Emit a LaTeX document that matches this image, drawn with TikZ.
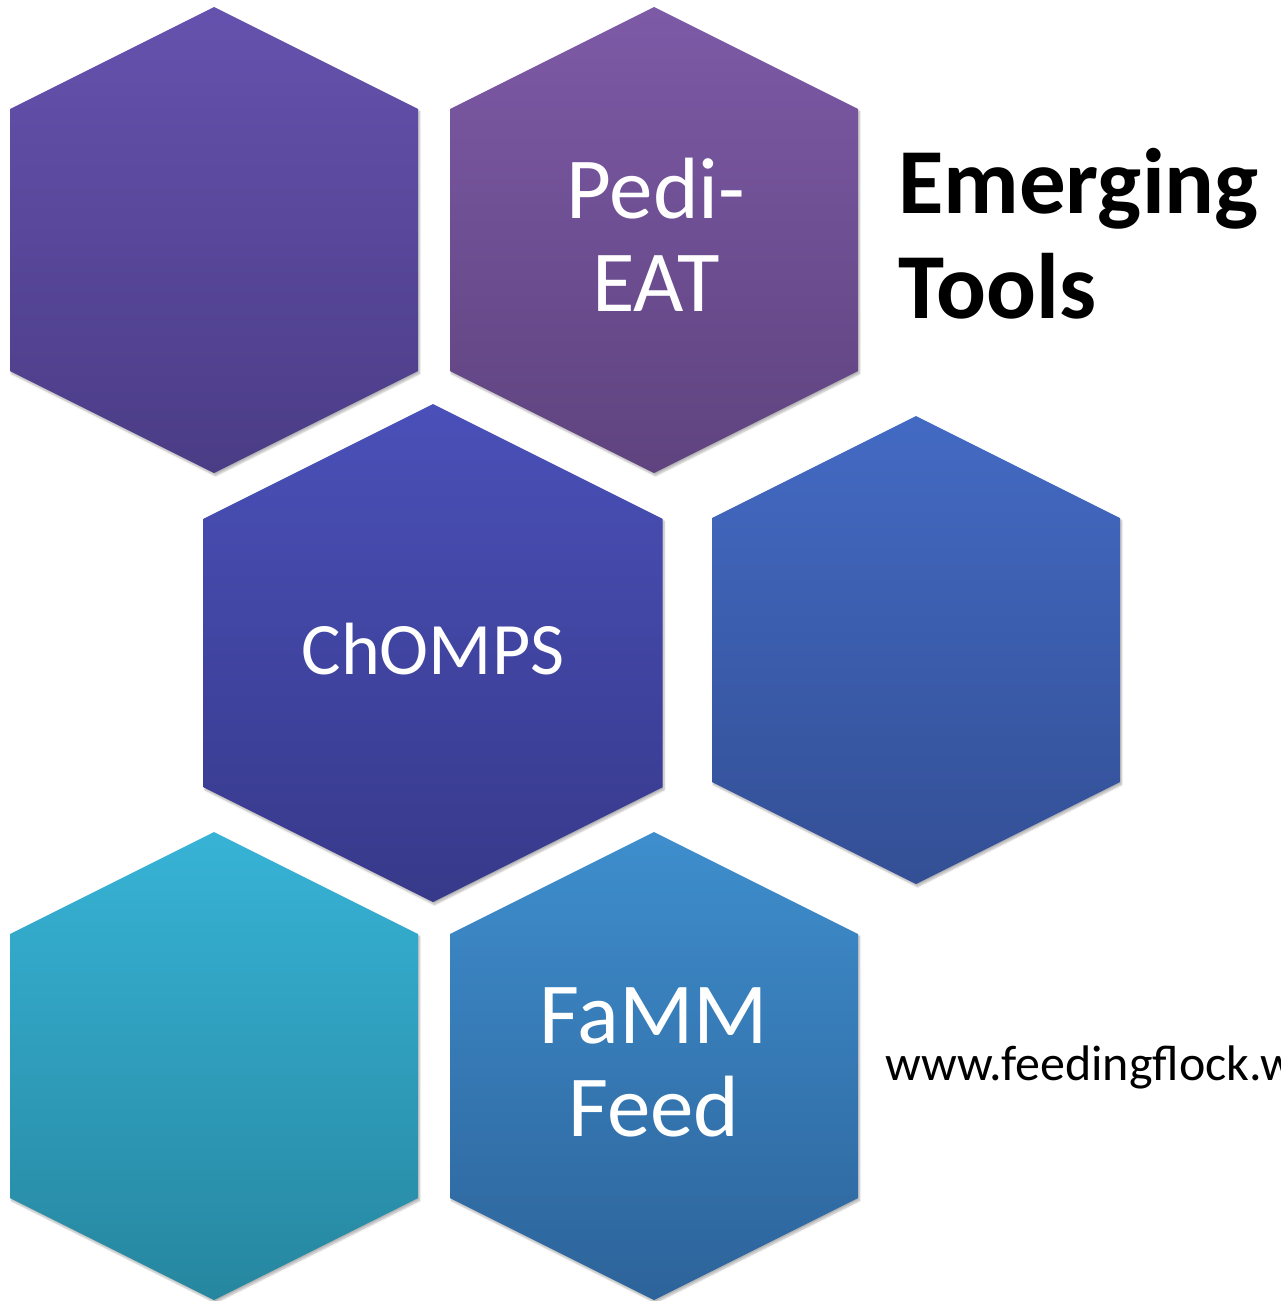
\documentclass[tikz,border=0pt]{standalone}
\usepackage{fontspec}
\setmainfont{Carlito}
\usetikzlibrary{shadows.blur}

% fill colours of the cells, top and bottom of each gradient
\definecolor{violetTop}{HTML}{6552AE}
\definecolor{violetBot}{HTML}{4B3C86}
\definecolor{plumTop}{HTML}{7D5AA6}
\definecolor{plumBot}{HTML}{5F437F}
\definecolor{indigoTop}{HTML}{4A50B8}
\definecolor{indigoBot}{HTML}{37398A}
\definecolor{royalTop}{HTML}{436AC3}
\definecolor{royalBot}{HTML}{334F95}
\definecolor{tealTop}{HTML}{37B3D6}
\definecolor{tealBot}{HTML}{26869F}
\definecolor{azureTop}{HTML}{3E8ECD}
\definecolor{azureBot}{HTML}{2D639A}

% hexagon with a pointed top: centre x, centre y, half width, half height
\newcommand{\hexcell}[5][]{%
    \path[cellShade,#1] (#2,#3) ++(0,-#5) -- ++(#4,#4/2) -- ++(0,2*#5-#4)
        -- ++(-#4,#4/2) -- ++(-#4,-#4/2) -- ++(0,-2*#5+#4) -- cycle;}

\begin{document}
\begin{tikzpicture}[
            x=1pt, y=-1pt,
            cellShade/.style={blur shadow={shadow xshift=1.5pt, shadow yshift=-2.5pt,
            shadow opacity=30, shadow blur steps=6}},
            cellText/.style={text=white, align=center, inner sep=0pt,
            font=\fontsize{87}{93}\selectfont},
            titleText/.style={text=black, align=left, inner sep=0pt,
            font=\bfseries\fontsize{93}{105}\selectfont},
            urlText/.style={text=black, inner sep=0pt,
            font=\fontsize{50}{60}\selectfont},
        ]
        \useasboundingbox (0,0) rectangle (1280,1301);
        \clip (0,0) rectangle (1280,1301);
        % honeycomb
        \hexcell[top color=violetTop, bottom color=violetBot]{214}{240}{204}{233}
        \hexcell[top color=plumTop, bottom color=plumBot]{654}{240}{204}{233}
        \hexcell[top color=indigoTop, bottom color=indigoBot]{433}{653}{229.5}{249}
        \hexcell[top color=royalTop, bottom color=royalBot]{916}{650}{204}{234}
        \hexcell[top color=tealTop, bottom color=tealBot]{214}{1066}{204}{234}
        \hexcell[top color=azureTop, bottom color=azureBot]{654}{1066}{204}{234}
        % cell labels (base = last line)
        \node[cellText, anchor=base] (pediEat) at (656,311) {Pedi-\\EAT};
        \node[cellText, anchor=base, font=\fontsize{74}{80}\selectfont] (chomps) at (433,674) {ChOMPS};
        \node[cellText, anchor=base] (fammFeed) at (654,1136) {FaMM\\Feed};
        % heading and address
        \node[titleText, anchor=base west] (heading) at (898,318) {Emerging\\Tools};
        \node[urlText, anchor=base west] (site) at (885,1080) {www.feedingflock.w};
    \end{tikzpicture}
\end{document}
